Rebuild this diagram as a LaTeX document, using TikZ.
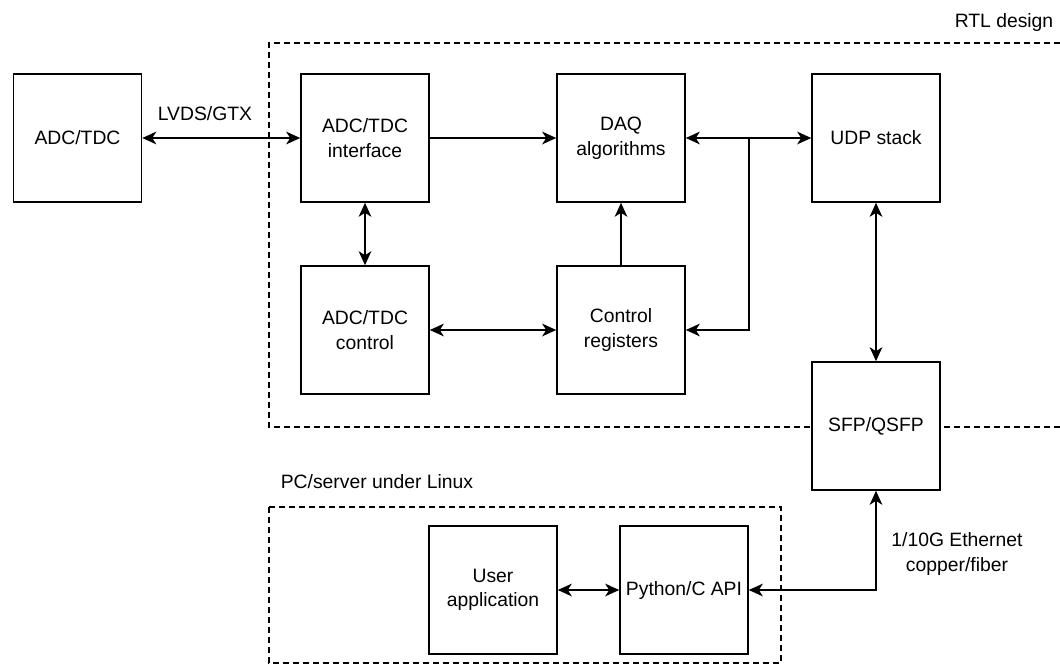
\documentclass[tikz,border=0pt]{standalone}
\usepackage{fontspec}
\setmainfont{Liberation Sans}
\usetikzlibrary{arrows.meta,positioning}

\begin{document}
\begin{tikzpicture}[x=0.75pt,y=-0.75pt,
  >={Stealth[length=10.5pt,width=9.5pt,inset=3pt]},
  font=\fontsize{14.5}{18.5}\selectfont,
  blk/.style={draw,line width=1.2pt,fill=white,minimum size=96pt,inner sep=2pt,align=center},
  link/.style={line width=1.2pt},
  region/.style={line width=0.9pt,dash pattern=on 4.5pt off 3pt}]
  \useasboundingbox (0,0) rectangle (1060,665);
  % dashed regions
  \draw[region] (1060,43) -- (269,43) -- (269,427) -- (1060,427);
  \draw[region] (269,507) rectangle (781,663);
  \node (rtl) at (1004,22) {RTL design};
  \node (pc) at (377,482) {PC/server under Linux};
  % blocks
  \node[blk] (adc) at (77.5,138) {ADC/TDC};
  \node[blk] (intf) at (365,138) {ADC/TDC\\interface};
  \node[blk] (daq) at (621,138) {DAQ\\algorithms};
  \node[blk] (udp) at (876,138) {UDP stack};
  \node[blk] (tdcctl) at (365,330) {ADC/TDC\\control};
  \node[blk] (regs) at (621,330) {Control\\registers};
  \node[blk] (sfp) at (876,426) {SFP/QSFP};
  \node[blk] (user) at (493,590) {User\\application};
  \node[blk] (api) at (684,590) {Python/C API};
  % connectors
  \draw[link,<->] (adc) -- (intf);
  \node (lvds) at (205,114) {LVDS/GTX};
  \draw[link,->] (intf) -- (daq);
  \draw[link,<->] (daq) -- (udp);
  \coordinate (tap) at (749,138);
  \draw[link,->] (tap) |- (regs);
  \draw[link,<->] (intf) -- (tdcctl);
  \draw[link,<->] (tdcctl) -- (regs);
  \draw[link,->] (regs) -- (daq);
  \draw[link,<->] (udp) -- (sfp);
  \draw[link,<->] (sfp) |- (api);
  \draw[link,<->] (user) -- (api);
  \node[align=center] (eth) at (957,554) {1/10G Ethernet\\copper/fiber};
\end{tikzpicture}
\end{document}
